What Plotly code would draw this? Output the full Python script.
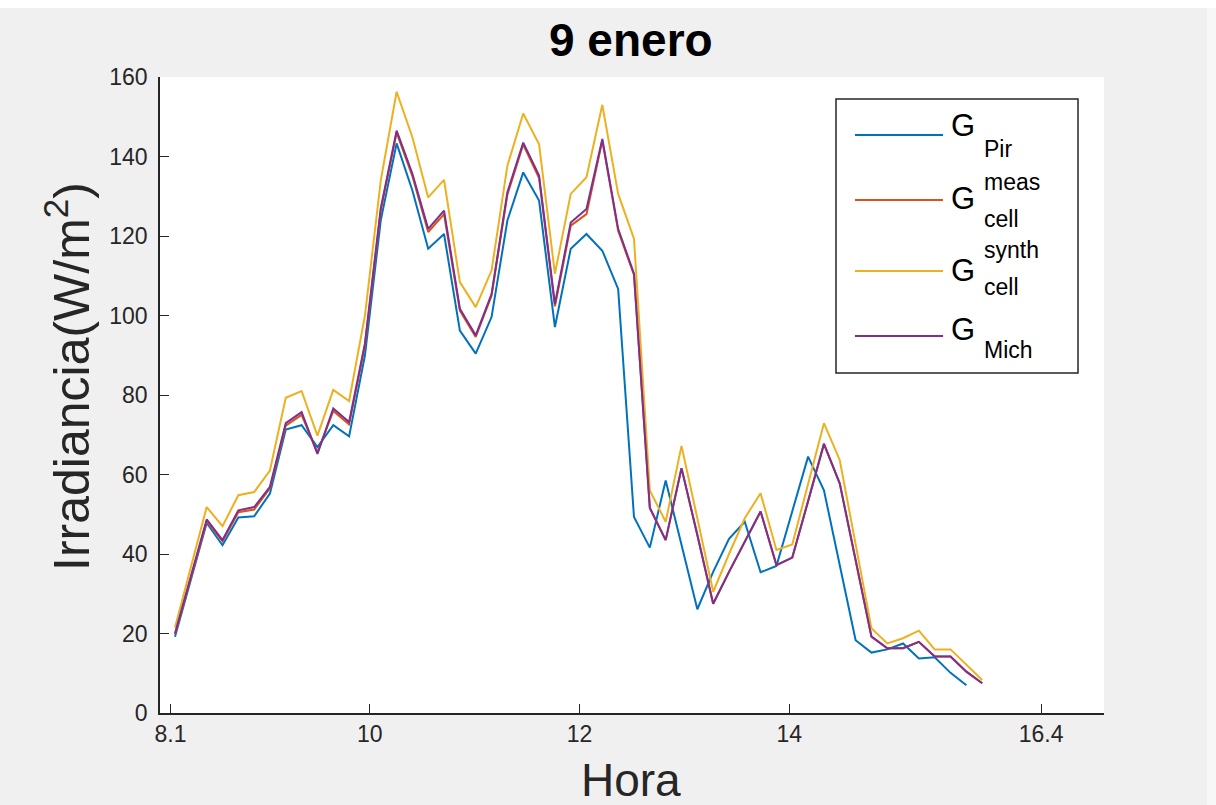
import plotly.graph_objects as go

# ---------------- data ----------------
hora = [8.143, 8.294, 8.445, 8.596, 8.747, 8.898, 9.048, 9.199, 9.350, 9.501,
        9.652, 9.803, 9.954, 10.105, 10.256, 10.407, 10.557, 10.708, 10.859, 11.010,
        11.161, 11.312, 11.463, 11.614, 11.765, 11.916, 12.066, 12.217, 12.368, 12.519,
        12.670, 12.821, 12.972, 13.123, 13.274, 13.425, 13.575, 13.726, 13.877, 14.028,
        14.179, 14.330, 14.481, 14.632, 14.783, 14.934, 15.084, 15.235, 15.386, 15.537,
        15.688, 15.839]

g_pir = [19.2, 33.5, 47.8, 42.2, 49.2, 49.5, 55.2, 71.3, 72.4, 66.9,
         72.4, 69.6, 90.0, 124.0, 143.3, 131.4, 116.8, 120.5, 96.2, 90.4,
         99.6, 123.9, 136.0, 128.9, 97.1, 116.8, 120.5, 116.3, 106.7, 49.3,
         41.6, 58.5, 42.2, 26.1, 35.5, 43.8, 48.1, 35.4, 37.0, 51.0,
         64.5, 56.0, 37.2, 18.3, 15.2, 16.0, 17.5, 13.7, 14.0, 10.1,
         7.0]

g_cell_meas = [19.8, 34.2, 48.3, 43.2, 50.5, 51.2, 56.5, 72.3, 75.0, 65.5,
               76.0, 72.6, 92.5, 126.5, 146.0, 135.0, 121.0, 125.5, 101.2, 94.6,
               105.0, 130.4, 143.0, 134.6, 102.3, 122.6, 125.5, 144.0, 121.3, 110.2,
               51.6, 43.5, 61.6, 44.8, 27.5, 35.5, 43.0, 50.7, 37.2, 39.1,
               53.3, 67.7, 57.7, 38.4, 19.2, 16.3, 16.3, 17.9, 14.2, 14.2,
               10.4, 7.5]

g_cell_synth = [21.5, 36.5, 51.8, 47.0, 54.8, 55.6, 61.0, 79.3, 81.0, 69.8,
                81.3, 78.5, 100.0, 134.0, 156.3, 144.8, 129.7, 134.1, 108.4, 102.1,
                111.3, 137.7, 150.8, 143.1, 110.5, 130.6, 134.8, 153.0, 130.6, 119.3,
                56.0, 48.1, 67.2, 49.0, 30.5, 40.0, 49.0, 55.3, 41.0, 42.4,
                57.5, 72.9, 63.6, 42.0, 21.3, 17.5, 18.8, 20.7, 16.0, 16.0,
                12.1, 8.3]

g_mich = [20.0, 34.5, 48.7, 43.5, 51.0, 51.8, 56.9, 72.9, 75.7, 65.2,
          76.6, 73.2, 93.0, 127.0, 146.5, 135.6, 121.8, 126.4, 101.7, 95.0,
          105.4, 131.0, 143.5, 135.2, 102.9, 123.4, 126.8, 144.4, 121.8, 110.5,
          51.6, 43.5, 61.6, 44.8, 27.5, 35.5, 43.0, 50.7, 37.2, 39.1,
          53.3, 67.7, 57.7, 38.4, 19.2, 16.3, 16.3, 17.9, 14.2, 14.2,
          10.4, 7.5]

x_tickvals = [8.1, 10, 12, 14, 16.4]
x_ticktext = ["8.1", "10", "12", "14", "16.4"]
y_tickvals = [0, 20, 40, 60, 80, 100, 120, 140, 160]

titulo = "9 enero"
x_label = "Hora"
y_label = "Irradiancia(W/m<sup>2</sup>)"

# ---------------- style ----------------
W, H = 1216, 805
L, R, T, B = 160, 112, 77, 92
PW, PH = W - L - R, H - T - B
FONT = "Liberation Sans, Arial, Helvetica, sans-serif"
AX = "#262626"
colors = {"pir": "#0072BD", "meas": "#D95319", "synth": "#EDB120", "mich": "#7E2F8E"}


def px(X):
    return (X - L) / PW


def py(Y):
    return (H - B - Y) / PH


fig = go.Figure()
for name, vals, c in [("G_Pir", g_pir, colors["pir"]),
                      ("G_cell_meas", g_cell_meas, colors["meas"]),
                      ("G_cell_synth", g_cell_synth, colors["synth"]),
                      ("G_Mich", g_mich, colors["mich"])]:
    fig.add_trace(go.Scatter(x=hora[:len(vals)], y=vals, mode="lines", name=name,
                             line=dict(color=c, width=2), showlegend=False))

shapes = []
annotations = []

# outer strips of the screenshot
shapes.append(dict(type="rect", xref="paper", yref="paper", x0=px(0), x1=px(W), y0=py(8), y1=py(0),
                   fillcolor="white", line=dict(width=0), layer="below"))
shapes.append(dict(type="rect", xref="paper", yref="paper", x0=px(1207), x1=px(W), y0=py(H), y1=py(8),
                   fillcolor="#f7f7f7", line=dict(width=0), layer="below"))

# custom legend box
shapes.append(dict(type="rect", xref="paper", yref="paper", x0=px(836), x1=px(1078), y0=py(373), y1=py(99),
                   fillcolor="white", line=dict(color=AX, width=1.5)))
G_FS, S_FS = 31, 23
legend_rows = [
    (135, colors["pir"], 137.0, [("Pir", 157.0)]),
    (200, colors["meas"], 209.5, [("meas", 190.0), ("cell", 227.0)]),
    (271, colors["synth"], 282.0, [("synth", 258.0), ("cell", 295.5)]),
    (336, colors["mich"], 340.5, [("Mich", 358.5)]),
]
for ly, c, gbase, subs in legend_rows:
    shapes.append(dict(type="line", xref="paper", yref="paper", x0=px(855), x1=px(943), y0=py(ly), y1=py(ly),
                       line=dict(color=c, width=2)))
    annotations.append(dict(xref="paper", yref="paper", x=px(949), y=py(gbase - 0.36 * G_FS), text="G",
                            showarrow=False, xanchor="left", yanchor="middle",
                            font=dict(family=FONT, size=G_FS, color="black")))
    for s, sbase in subs:
        annotations.append(dict(xref="paper", yref="paper", x=px(982), y=py(sbase - 0.36 * S_FS), text=s,
                                showarrow=False, xanchor="left", yanchor="middle",
                                font=dict(family=FONT, size=S_FS, color="black")))

# title and axis labels
annotations.append(dict(xref="paper", yref="paper", x=px(631), y=py(40), text="<b>" + titulo + "</b>",
                        showarrow=False, xanchor="center", yanchor="middle",
                        font=dict(family=FONT, size=46, color="black")))
annotations.append(dict(xref="paper", yref="paper", x=px(631), y=py(780), text=x_label,
                        showarrow=False, xanchor="center", yanchor="middle",
                        font=dict(family=FONT, size=46, color=AX)))
annotations.append(dict(xref="paper", yref="paper", x=px(68), y=py(377), text=y_label, textangle=-90,
                        showarrow=False, xanchor="center", yanchor="middle",
                        font=dict(family=FONT, size=50, color=AX)))

fig.update_layout(
    width=W, height=H, autosize=False,
    margin=dict(l=L, r=R, t=T, b=B, pad=0),
    paper_bgcolor="#f0f0f0", plot_bgcolor="white",
    shapes=shapes, annotations=annotations,
    xaxis=dict(range=[8, 17], tickvals=x_tickvals, ticktext=x_ticktext,
               showline=True, linecolor=AX, linewidth=1.5, mirror=False,
               ticks="inside", ticklen=9, tickwidth=1.3, tickcolor=AX,
               showgrid=False, zeroline=False,
               tickfont=dict(family=FONT, size=23, color=AX)),
    yaxis=dict(range=[0, 160], tickvals=y_tickvals,
               showline=True, linecolor=AX, linewidth=1.5, mirror=False,
               ticks="inside", ticklen=9, tickwidth=1.3, tickcolor=AX,
               showgrid=False, zeroline=False, ticklabelstandoff=6,
               tickfont=dict(family=FONT, size=23, color=AX)),
)

fig.write_html("out.html")
